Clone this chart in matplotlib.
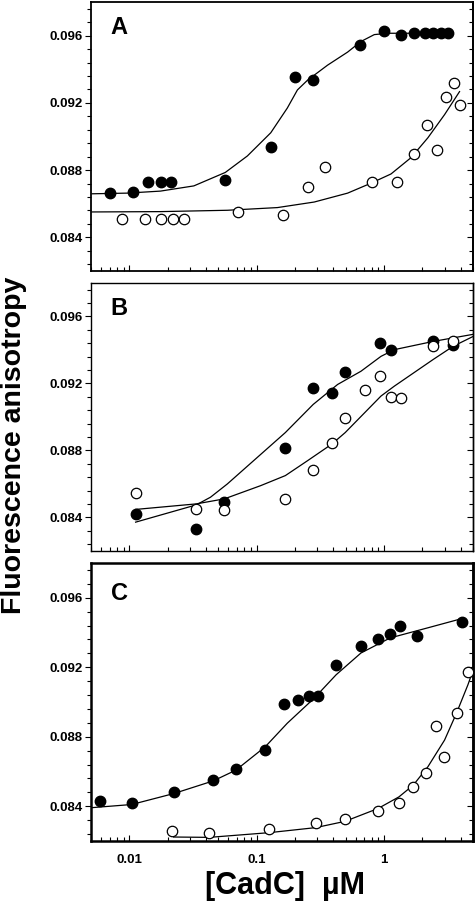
import matplotlib
matplotlib.use('Agg')
import matplotlib.pyplot as plt
from matplotlib.ticker import AutoMinorLocator, LogLocator, NullFormatter, FormatStrFormatter

plt.rcParams['font.family'] = ['Liberation Sans', 'DejaVu Sans']
plt.rcParams['font.weight'] = 'bold'

# ---- panel A ----
a_filled_x = [0.0070, 0.0106, 0.0141, 0.0177, 0.0214, 0.0567, 0.129, 0.201, 0.276,
              0.643, 0.994, 1.36, 1.71, 2.08, 2.43, 2.81, 3.21]
a_filled_y = [0.08665, 0.08669, 0.08727, 0.08727, 0.08727, 0.08739, 0.08937, 0.09355,
              0.09337, 0.09547, 0.09625, 0.09606, 0.09614, 0.09614, 0.09614, 0.09614, 0.09614]
a_open_x = [0.00881, 0.0133, 0.0177, 0.0222, 0.0268, 0.0718, 0.162, 0.252, 0.343,
            0.800, 1.26, 1.71, 2.17, 2.61, 3.06, 3.54, 3.94]
a_open_y = [0.08508, 0.08508, 0.08508, 0.08508, 0.08508, 0.08549, 0.0853, 0.0870, 0.0882,
            0.0873, 0.0873, 0.08898, 0.09069, 0.08918, 0.09237, 0.09318, 0.09188]
a_fit1_x = [0.00508, 0.00959, 0.01754, 0.0321, 0.0567, 0.0845, 0.129, 0.174, 0.209,
            0.251, 0.360, 0.518, 0.659, 0.839, 1.07, 3.37]
a_fit1_y = [0.08659, 0.08663, 0.08675, 0.08706, 0.08786, 0.08884, 0.09022, 0.09169,
            0.09277, 0.09335, 0.09424, 0.09502, 0.09565, 0.09606, 0.09614, 0.09614]
a_fit2_x = [0.00508, 0.01754, 0.0588, 0.1455, 0.283, 0.518, 0.790, 1.135, 1.63, 2.21, 2.99, 3.92]
a_fit2_y = [0.08551, 0.08553, 0.08561, 0.08577, 0.0861, 0.08663, 0.08722, 0.08777,
            0.08874, 0.08992, 0.0913, 0.09267]

# ---- panel B ----
b_filled_x = [0.0112, 0.0335, 0.0557, 0.168, 0.278, 0.387, 0.496, 0.930, 1.135, 2.43, 3.49]
b_filled_y = [0.08422, 0.08333, 0.08495, 0.08812, 0.09172, 0.09141, 0.09271, 0.09442,
              0.0940, 0.09451, 0.0943]
b_open_x = [0.01135, 0.0335, 0.0557, 0.168, 0.279, 0.389, 0.496, 0.713, 0.930, 1.135,
            1.353, 2.43, 3.49]
b_open_y = [0.08545, 0.08452, 0.08442, 0.08513, 0.08683, 0.08844, 0.08992, 0.09162,
            0.09242, 0.09121, 0.09111, 0.09422, 0.09451]
b_fit1_x = [0.0112, 0.0335, 0.0434, 0.0588, 0.168, 0.278, 0.432, 0.659, 0.947, 1.205, 2.43, 5.14]
b_fit1_y = [0.08372, 0.08475, 0.08521, 0.0860, 0.08907, 0.09075, 0.09194, 0.09273,
            0.09362, 0.09402, 0.09451, 0.09495]
b_fit2_x = [0.0112, 0.0335, 0.0557, 0.1075, 0.168, 0.251, 0.389, 0.496, 0.947, 1.205,
            2.43, 3.49, 5.14]
b_fit2_y = [0.08448, 0.08481, 0.08511, 0.0859, 0.0865, 0.08739, 0.08838, 0.08907,
            0.09125, 0.09184, 0.09343, 0.09422, 0.09485]

# ---- panel C ----
c_filled_x = [0.00588, 0.0104, 0.0223, 0.0456, 0.0687, 0.117, 0.165, 0.211, 0.257, 0.304,
              0.421, 0.659, 0.892, 1.12, 1.34, 1.80, 4.09]
c_filled_y = [0.08429, 0.08419, 0.08481, 0.08552, 0.08612, 0.08722, 0.08991, 0.09013,
              0.09032, 0.09032, 0.09213, 0.09323, 0.09363, 0.09394, 0.09436, 0.09382, 0.09463]
c_open_x = [0.0218, 0.0424, 0.125, 0.290, 0.493, 0.897, 1.31, 1.70, 2.12, 2.54, 2.95, 3.71, 4.53]
c_open_y = [0.0826, 0.08248, 0.08271, 0.08306, 0.08325, 0.08373, 0.08419, 0.08512,
            0.08589, 0.08864, 0.08681, 0.08934, 0.09174]
c_fit1_x = [0.00508, 0.0104, 0.0223, 0.0456, 0.0687, 0.117, 0.174, 0.283, 0.421, 0.659,
            1.12, 2.21, 4.04]
c_fit1_y = [0.08392, 0.0841, 0.08473, 0.08546, 0.08608, 0.08743, 0.08878, 0.09022,
            0.09157, 0.09282, 0.09369, 0.09427, 0.09479]
c_fit2_x = [0.0223, 0.0424, 0.125, 0.290, 0.493, 0.897, 1.31, 1.70, 2.21, 2.99, 3.71, 4.56, 5.24]
c_fit2_y = [0.08223, 0.08221, 0.08248, 0.08277, 0.08313, 0.08387, 0.08454, 0.08522,
            0.08627, 0.08781, 0.08936, 0.09099, 0.09224]

y_ticks = [0.084, 0.088, 0.092, 0.096]


def draw_panel(ax, letter, letter_y, fx, fy, ox, oy, f1x, f1y, f2x, f2y, spine_lw, show_x):
    ax.plot(f1x, f1y, color='black', lw=0.9, zorder=2)
    ax.plot(f2x, f2y, color='black', lw=0.9, zorder=2)
    ax.plot(fx, fy, 'o', color='black', ms=7.5, zorder=3)
    ax.plot(ox, oy, 'o', mfc='white', mec='black', mew=0.9, ms=7.5, zorder=3)

    ax.set_xscale('log')
    ax.set_xlim(0.005, 5)
    ax.set_ylim(0.082, 0.098)

    ax.set_yticks(y_ticks)
    ax.yaxis.set_major_formatter(FormatStrFormatter('%.3f'))
    ax.yaxis.set_minor_locator(AutoMinorLocator(5))
    ax.tick_params(axis='y', which='major', direction='out', length=4, width=0.8,
                   labelsize=9.5, pad=2)
    ax.tick_params(axis='y', which='minor', direction='out', length=3, width=0.8)

    ax.xaxis.set_major_locator(LogLocator(base=10, numticks=10))
    ax.xaxis.set_minor_locator(LogLocator(base=10, subs=range(2, 10), numticks=20))
    ax.xaxis.set_minor_formatter(NullFormatter())
    ax.tick_params(axis='x', which='major', direction='in', length=4, width=0.8,
                   labelsize=9.5, pad=9)
    ax.tick_params(axis='x', which='minor', direction='in', length=3, width=0.8)
    if show_x:
        ax.set_xticks([0.01, 0.1, 1])
        ax.set_xticklabels(['0.01', '0.1', '1'])
    else:
        ax.tick_params(axis='x', labelbottom=False)

    sec = ax.secondary_yaxis('right')
    sec.set_yticks(y_ticks)
    sec.yaxis.set_minor_locator(AutoMinorLocator(5))
    sec.tick_params(which='major', direction='in', length=4, width=0.8, labelright=False)
    sec.tick_params(which='minor', direction='in', length=3, width=0.8)
    sec.spines['right'].set_linewidth(spine_lw)

    for s in ax.spines.values():
        s.set_linewidth(spine_lw)

    ax.text(0.052, letter_y, letter, transform=ax.transAxes, fontsize=17,
            fontweight='bold', va='baseline', ha='left')


fig = plt.figure(figsize=(4.75, 9.05), dpi=100)
ax_a = fig.add_axes([0.1916, 0.7006, 0.8042, 0.2972])
ax_b = fig.add_axes([0.1916, 0.3912, 0.8042, 0.2961])
ax_c = fig.add_axes([0.1916, 0.0707, 0.8042, 0.3072])

draw_panel(ax_a, 'A', 0.881, a_filled_x, a_filled_y, a_open_x, a_open_y,
           a_fit1_x, a_fit1_y, a_fit2_x, a_fit2_y, 1.3, False)
draw_panel(ax_b, 'B', 0.881, b_filled_x, b_filled_y, b_open_x, b_open_y,
           b_fit1_x, b_fit1_y, b_fit2_x, b_fit2_y, 1.0, False)
draw_panel(ax_c, 'C', 0.867, c_filled_x, c_filled_y, c_open_x, c_open_y,
           c_fit1_x, c_fit1_y, c_fit2_x, c_fit2_y, 1.8, True)

fig.text(0.03, 0.508, 'Fluorescence anisotropy', rotation=90, ha='center', va='center',
         fontsize=20.5, fontweight='bold')
fig.text(0.6, 0.021, '[CadC]  \u00b5M', ha='center', va='center',
         fontsize=22, fontweight='bold')

fig.savefig('out.png', dpi=100)
